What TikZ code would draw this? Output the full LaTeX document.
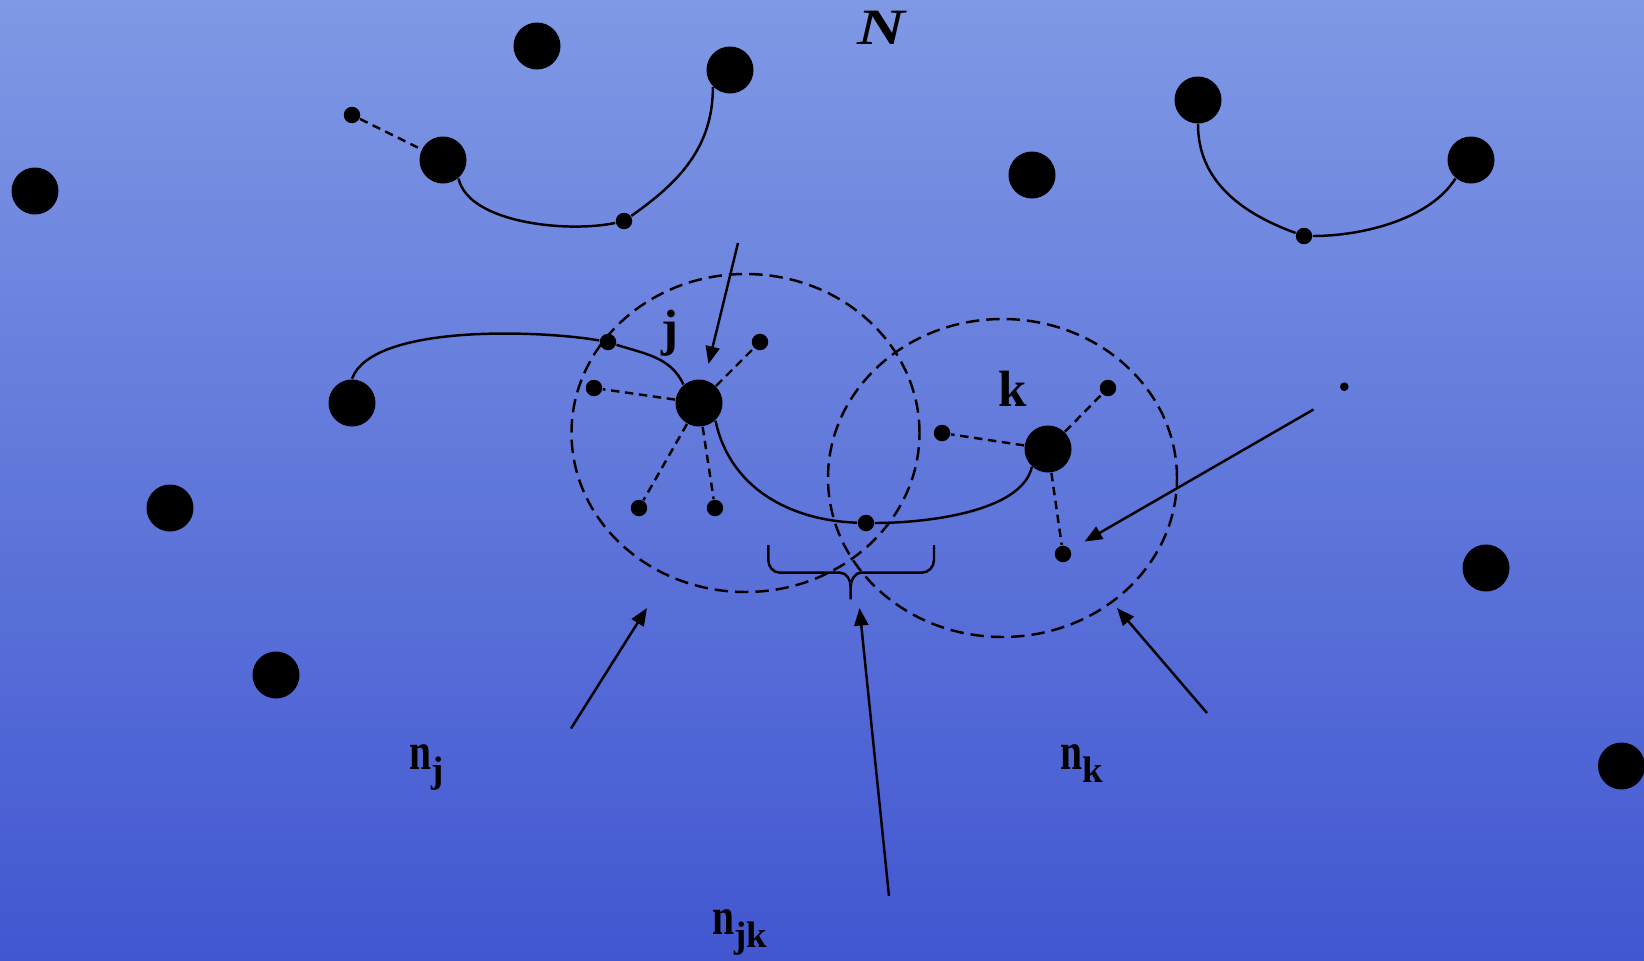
\documentclass[tikz,border=0pt]{standalone}
\usepackage{fontspec}
\setmainfont{Liberation Serif}
\usepackage{graphicx}
\usetikzlibrary{arrows.meta}
\definecolor{bgtop}{RGB}{127,153,229}
\definecolor{bgbot}{RGB}{66,86,208}
\newcommand{\nlab}[1]{\scalebox{0.75}[1]{n}\raisebox{-0.25em}{\fontsize{10.5}{12}\selectfont #1}}

\begin{document}
\begin{tikzpicture}[
  font=\fontsize{14.5}{16}\selectfont\bfseries,
  big/.style={circle,fill=black,inner sep=0pt,minimum size=0.47cm},
  small/.style={circle,fill=black,inner sep=0pt,minimum size=0.165cm},
  tiny/.style={circle,fill=black,inner sep=0pt,minimum size=0.087cm},
  link/.style={line width=0.7pt},
  dlink/.style={line width=0.7pt,dash pattern=on 2.4pt off 1.6pt},
  zone/.style={line width=0.7pt,dash pattern=on 3.8pt off 2pt},
  lbl/.style={inner sep=0pt},
  nlbl/.style={inner sep=0pt,anchor=base west,font=\fontsize{15}{18}\selectfont\bfseries},
  arr/.style={-{Triangle[length=5pt,width=4pt]},line width=0.7pt}
]
\useasboundingbox (0,0) rectangle (16.44,9.6);
\shade[top color=bgtop,bottom color=bgbot] (0,0) rectangle (16.44,9.6);

\node[big]   (v1)  at (0.35,7.69) {};
\node[big]   (v2)  at (5.37,9.14) {};
\node[big]   (v3)  at (7.30,8.90) {};
\node[big]   (v4)  at (4.43,8.00) {};
\node[small] (m3)  at (3.52,8.45) {};
\node[small] (m1)  at (6.24,7.39) {};
\node[big]   (v5)  at (10.32,7.85) {};
\node[big]   (v6)  at (11.98,8.60) {};
\node[big]   (v7)  at (14.71,8.00) {};
\node[small] (m2)  at (13.04,7.24) {};
\node[big]   (v8)  at (3.52,5.57) {};
\node[big]   (v9)  at (1.70,4.52) {};
\node[big]   (v10) at (2.76,2.85) {};
\node[big]   (v11) at (14.86,3.92) {};
\node[big]   (v12) at (16.215,1.94) {};
\node[tiny]  (dot) at (13.443,5.733) {};

\node[big]   (j)   at (6.99,5.57) {};
\node[small] (j1)  at (6.08,6.18) {};
\node[small] (j2)  at (5.94,5.72) {};
\node[small] (j3)  at (7.60,6.18) {};
\node[small] (j4)  at (6.39,4.52) {};
\node[small] (j5)  at (7.15,4.52) {};
\node[small] (jk)  at (8.66,4.37) {};
\node[big]   (k)   at (10.48,5.11) {};
\node[small] (k1)  at (9.42,5.27) {};
\node[small] (k2)  at (11.08,5.72) {};
\node[small] (k3)  at (10.63,4.06) {};

\draw[zone] (7.455,5.27) ellipse [x radius=1.74, y radius=1.59];
\draw[zone] (10.025,4.82) ellipse [x radius=1.745, y radius=1.59];

\draw[dlink] (m3) -- (v4);
\draw[dlink] (j) -- (j2);
\draw[dlink] (j) -- (j3);
\draw[dlink] (j) -- (j4);
\draw[dlink] (j) -- (j5);
\draw[dlink] (k) -- (k1);
\draw[dlink] (k) -- (k2);
\draw[dlink] (k) -- (k3);

\draw[link] (v4.-50) .. controls +(0.1,-0.45) and +(-0.55,-0.12) .. (m1);
\draw[link] (m1) to[out=35,in=-90] (v3.-135);
\draw[link] (v6.-90) to[out=-90,in=160] (m2);
\draw[link] (m2) .. controls +(0.6,0) and +(-0.25,-0.4) .. (v7.-130);
\draw[link] (v8.north) to[out=70,in=170,looseness=0.6] (j1);
\draw[link] (j1) to[out=-18,in=115] (j.130);
\draw[link] (j.-47) to[out=-78,in=178] (jk);
\draw[link] (jk) .. controls +(0.6,0) and +(-0.1,-0.45) .. (k.-132);

\draw[link] (7.683,4.15) -- (7.683,4.0) to[out=-90,in=180] (7.80,3.873)
  -- (8.40,3.873) to[out=0,in=90] (8.507,3.73) -- (8.507,3.607);
\draw[link] (8.507,3.73) to[out=90,in=180] (8.617,3.873)
  -- (9.217,3.873) to[out=0,in=-90] (9.34,4.0) -- (9.34,4.15);

\node[lbl,font=\fontsize{14.5}{16}\selectfont\bfseries\itshape] (ntot) at (8.81,9.32) {\scalebox{1.3}[1]{N}};
\node[lbl] (jlab) at (6.70,6.265) {j};
\node[lbl] (klab) at (10.13,5.71) {k};
\node[nlbl] (nj)  at (4.09,1.907) {\nlab{j}};
\node[nlbl] (nk)  at (10.60,1.91) {\nlab{k}};
\node[nlbl] (njk) at (7.12,0.257) {\nlab{jk}};

\coordinate (ta) at (7.38,7.17);
\coordinate (tb) at (13.135,5.505);
\coordinate (tc) at (5.71,2.315);
\coordinate (hc) at (6.47,3.52);
\coordinate (td) at (8.89,0.64);
\coordinate (hd) at (8.595,3.52);
\coordinate (te) at (12.07,2.47);
\coordinate (he) at (11.17,3.52);

\draw[arr,shorten >=0.16cm] (ta) -- (j);
\draw[arr,shorten >=0.16cm] (tb) -- (k3);
\draw[arr] (tc) -- (hc);
\draw[arr] (td) -- (hd);
\draw[arr] (te) -- (he);
\end{tikzpicture}
\end{document}
